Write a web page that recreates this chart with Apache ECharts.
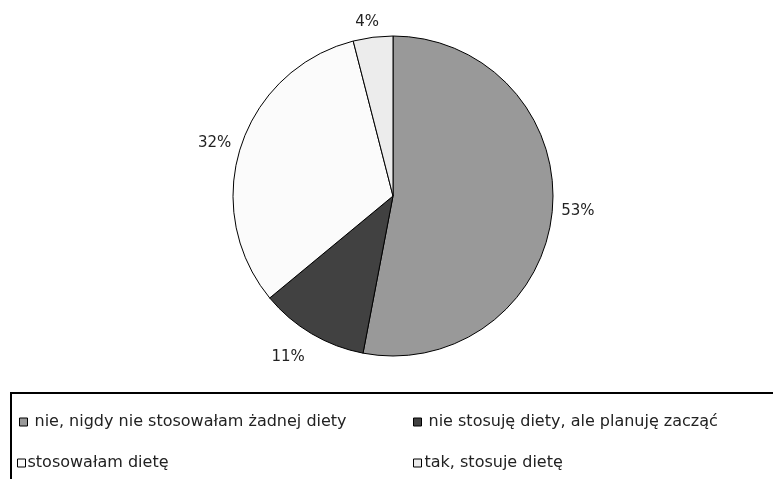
<!DOCTYPE html>
<html>
<head>
<meta charset="utf-8">
<script src="https://cdn.jsdelivr.net/npm/echarts@6/dist/echarts.min.js"></script>
<style>
html,body{margin:0;padding:0;background:#fff;}
#chart{width:773px;height:479px;}
</style>
</head>
<body>
<div id="chart"></div>
<script>
const categories = ['nie, nigdy nie stosowałam żadnej diety', 'nie stosuję diety, ale planuję zacząć', 'stosowałam dietę', 'tak, stosuje dietę'];
const values = [53, 11, 32, 4];

const colors = ['#999999', '#414141', '#fbfbfb', '#ececec'];
// label placement tweaks (radial length, horizontal length, padding)
const labelLen1 = [4, 27, 11, 15];
const labelLen2 = [0, -12, -6, -13];
const labelPad = [[8, 0, 0, 0], [0, 0, 0, 0], [0, 0, 0, 0], [0, 0, 0, 0]];
// legend placement
const legendPos = [[19, 414], [413, 414], [17, 455], [413, 455]];
const legendTextPad = [2, 2, -3, -2];

const chart = echarts.init(document.getElementById('chart'), null, {renderer: 'canvas'});

const data = categories.map((name, i) => ({
  name: name,
  value: values[i],
  itemStyle: {color: colors[i]},
  labelLine: {show: false, length: labelLen1[i], length2: labelLen2[i]},
  label: {padding: labelPad[i]}
}));

const legends = categories.map((name, i) => ({
  data: [name],
  left: legendPos[i][0],
  top: legendPos[i][1],
  padding: 0,
  icon: 'rect',
  itemWidth: 8,
  itemHeight: 8,
  itemGap: 0,
  selectedMode: false,
  itemStyle: {borderColor: '#000', borderWidth: 1},
  textStyle: {fontFamily: 'DejaVu Sans', fontSize: 16, color: '#222', padding: [0, 0, 0, legendTextPad[i]]}
}));

chart.setOption({
  backgroundColor: '#fff',
  animation: false,
  legend: legends,
  graphic: [{
    type: 'rect',
    shape: {x: 11, y: 393, width: 800, height: 120},
    style: {fill: 'none', stroke: '#000', lineWidth: 2},
    silent: true,
    z: 10
  }],
  series: [{
    type: 'pie',
    center: [393, 196],
    radius: 160,
    startAngle: 90,
    clockwise: true,
    avoidLabelOverlap: false,
    itemStyle: {borderColor: '#000', borderWidth: 1},
    label: {
      show: true,
      position: 'outside',
      formatter: '{c}%',
      fontFamily: 'DejaVu Sans',
      fontSize: 15,
      color: '#222'
    },
    labelLine: {show: false},
    emphasis: {disabled: true},
    data: data
  }]
});
</script>
</body>
</html>
